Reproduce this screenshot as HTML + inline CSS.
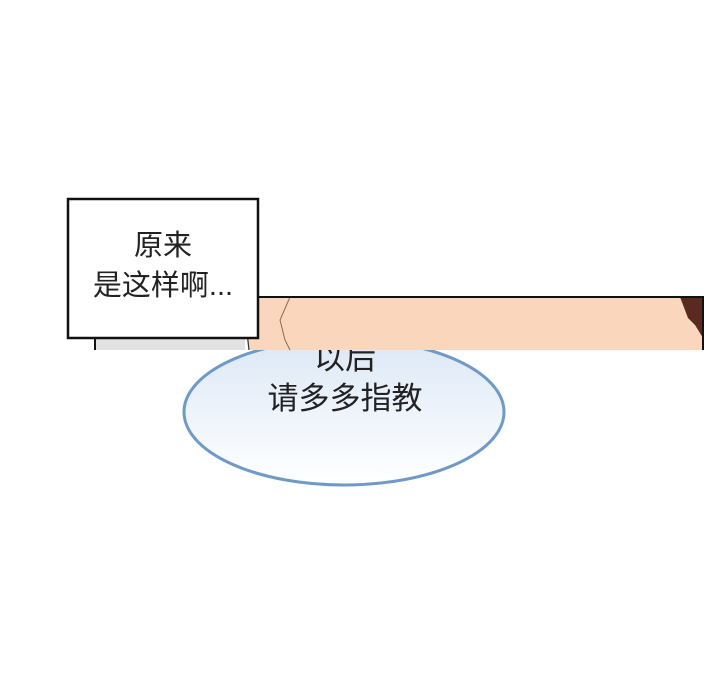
<!DOCTYPE html>
<html><head><meta charset="utf-8"><style>
body{margin:0;width:720px;height:700px;background:#fff;position:relative;overflow:hidden;font-family:"Liberation Sans","Noto Sans CJK SC",sans-serif;}
.t{position:absolute;color:#222;text-align:center;}
</style></head><body>
<svg width="720" height="700" style="position:absolute;left:0;top:0">
<defs>
<linearGradient id="g" x1="0" y1="0" x2="0" y2="1"><stop offset="0" stop-color="#dce8f6"/><stop offset="1" stop-color="#ffffff"/></linearGradient>
</defs>
<ellipse cx="344" cy="412" rx="160" ry="73" fill="url(#g)" stroke="#6f99c6" stroke-width="3"/>
<rect x="94" y="296" width="610" height="54" fill="#fff"/>
<rect x="95" y="297" width="150" height="53" fill="#e2e2e2"/>
<path d="M243 297 L703 297 L703 350 L249 350 Z" fill="#fad6bc"/>
<path d="M243 297 L249 350" stroke="#333" stroke-width="1.2" fill="none"/>
<path d="M290 297 L280 320 L285 340 L290 350" stroke="#8a6a5a" stroke-width="1" fill="none"/>
<path d="M680 297 L703 297 L703 338 L695 325 L688 318 Z" fill="#5a2a20"/>
<line x1="94" y1="297" x2="704" y2="297" stroke="#111" stroke-width="2"/>
<line x1="703" y1="297" x2="703" y2="350" stroke="#111" stroke-width="2"/>
<line x1="95" y1="330" x2="95" y2="350" stroke="#111" stroke-width="2"/>
<rect x="68" y="199" width="190" height="139" fill="#fff" stroke="#111" stroke-width="2.5"/>
</svg>
<div class="t" style="left:68px;top:226px;width:190px;font-size:29px;line-height:40px">原来<br>是这样啊...</div>
<div style="position:absolute;left:184px;top:350px;width:322px;height:80px;overflow:hidden">
<div class="t" style="left:0;top:-11px;width:322px;font-size:31px;line-height:40px">以后<br>请多多指教</div></div>
</body></html>
